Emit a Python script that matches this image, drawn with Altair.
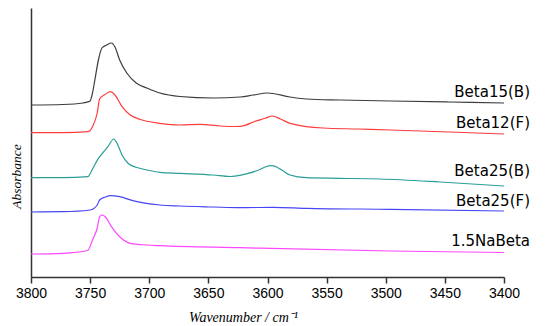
import altair as alt
import pandas as pd

# ---- data (wavenumber in cm-1, absorbance in arbitrary offset units)
wn_b15 = [3800, 3773, 3756, 3750, 3748, 3746, 3743, 3740, 3736, 3732, 3729, 3725, 3719, 3711, 3702,
          3691, 3674, 3646, 3623, 3612, 3600, 3581, 3567, 3539, 3496, 3446, 3400]
ab_b15 = [1.72, 1.725, 1.74, 1.76, 1.84, 1.97, 2.17, 2.29, 2.32, 2.34, 2.30, 2.17, 2.04, 1.94, 1.89,
          1.84, 1.805, 1.79, 1.80, 1.82, 1.84, 1.80, 1.78, 1.77, 1.76, 1.75, 1.74]

wn_b12 = [3800, 3773, 3752, 3748, 3744, 3742, 3738, 3733, 3729, 3723, 3716, 3708, 3691, 3674, 3657,
          3640, 3627, 3619, 3611, 3602, 3596, 3589, 3581, 3553, 3524, 3496, 3446, 3400]
ab_b12 = [1.443, 1.443, 1.453, 1.503, 1.64, 1.78, 1.82, 1.853, 1.82, 1.703, 1.62, 1.577, 1.537, 1.52, 1.527,
          1.51, 1.505, 1.517, 1.555, 1.587, 1.61, 1.58, 1.537, 1.49, 1.48, 1.47, 1.45, 1.43]

wn_b25b = [3800, 3773, 3752, 3748, 3743, 3739, 3735, 3730, 3728, 3723, 3718, 3711, 3702, 3691, 3674,
           3646, 3632, 3618, 3606, 3602, 3596, 3588, 3581, 3567, 3539, 3505, 3454, 3400]
ab_b25b = [0.993, 0.993, 1.003, 1.08, 1.187, 1.245, 1.303, 1.38, 1.353, 1.22, 1.137, 1.097, 1.07, 1.047, 1.037,
           1.02, 1.005, 1.032, 1.077, 1.10, 1.113, 1.07, 1.02, 0.993, 0.987, 0.98, 0.95, 0.91]

wn_b25f = [3800, 3773, 3750, 3744, 3742, 3737, 3733, 3725, 3714, 3691, 3674, 3646, 3623, 3595, 3567,
           3496, 3400]
ab_b25f = [0.65, 0.653, 0.67, 0.72, 0.77, 0.80, 0.813, 0.803, 0.763, 0.72, 0.71, 0.70, 0.693, 0.697, 0.687,
           0.677, 0.66]

wn_na = [3800, 3773, 3752, 3748, 3744, 3742, 3740, 3737, 3732, 3725, 3716, 3702, 3691, 3623, 3496, 3400]
ab_na = [0.23, 0.237, 0.265, 0.37, 0.49, 0.60, 0.62, 0.60, 0.503, 0.403, 0.337, 0.32, 0.313, 0.293, 0.26, 0.245]

series_names = ["Beta15(B)", "Beta12(F)", "Beta25(B)", "Beta25(F)", "1.5NaBeta"]
series_colors = ["#3c3c3c", "#ff3c3c", "#2a9e98", "#4646f5", "#ff46ff"]
label_y = [1.85, 1.545, 1.063, 0.763, 0.363]
label_x = [3400, 3400, 3400, 3400, 3400]

all_ticks = [3800, 3775, 3750, 3725, 3700, 3675, 3650, 3625, 3600, 3575, 3550, 3525,
             3500, 3475, 3450, 3425, 3400]

# ---- build tables
rows = []
for name, wns, abs_ in zip(series_names,
                           [wn_b15, wn_b12, wn_b25b, wn_b25f, wn_na],
                           [ab_b15, ab_b12, ab_b25b, ab_b25f, ab_na]):
    for i, (w, a) in enumerate(zip(wns, abs_)):
        rows.append({"series": name, "wn": w, "abs": a, "order": i})
df = pd.DataFrame(rows)
labels_df = pd.DataFrame({"series": series_names, "wn": label_x, "abs": label_y})

x_scale = alt.Scale(domain=[3800, 3400], nice=False, zero=False)
y_scale = alt.Scale(domain=[0, 2.69], nice=False, zero=False)
color_scale = alt.Scale(domain=series_names, range=series_colors)

x_axis = alt.Axis(
    values=all_ticks,
    labelExpr="datum.value % 50 === 0 ? datum.label : ''",
    format="d",
    grid=False,
    domainColor="#333333",
    domainWidth=1.5,
    tickColor="#333333",
    tickWidth=1.5,
    tickSize={"condition": {"test": "datum.value % 50 === 0", "value": 6}, "value": 3.5},
    labelFont="Liberation Sans",
    labelFontSize=14,
    labelColor="#000000",
    labelPadding=3,
    labelOverlap=False,
    labelFlush=False,
    title="Wavenumber / cm\u207b\u00b9",
    titleFont="Liberation Serif",
    titleFontStyle="italic",
    titleFontWeight="normal",
    titleFontSize=14,
    titleColor="#000000",
    titleX=212,
    titleY=40,
    titleAlign="center",
    titleBaseline="middle",
)

y_axis = alt.Axis(
    labels=False,
    ticks=False,
    grid=False,
    domainColor="#333333",
    domainWidth=1.5,
    title="Absorbance",
    titleFont="Liberation Serif",
    titleFontStyle="italic",
    titleFontWeight="normal",
    titleFontSize=13.5,
    titleColor="#000000",
    titleAngle=270,
    titleX=-11,
    titleY=168,
    titleAlign="center",
    titleBaseline="alphabetic",
)

lines = alt.Chart(df).mark_line(strokeWidth=1.2, interpolate="monotone").encode(
    x=alt.X("wn:Q", scale=x_scale, axis=x_axis),
    y=alt.Y("abs:Q", scale=y_scale, axis=y_axis),
    color=alt.Color("series:N", scale=color_scale, legend=None),
    detail="series:N",
    order="order:Q",
)

texts = alt.Chart(labels_df).mark_text(
    align="right", baseline="middle", dx=26, font="DejaVu Sans", fontSize=15, color="#000000"
).encode(
    x=alt.X("wn:Q", scale=x_scale),
    y=alt.Y("abs:Q", scale=y_scale),
    text="series:N",
)

chart = alt.layer(lines, texts).properties(
    width=473,
    height=269,
    autosize=alt.AutoSizeParams(type="none"),
    padding={"left": 23, "top": 0, "right": 38, "bottom": 49},
).configure_view(stroke=None)

chart.save("out.html", embed_options={"renderer": "svg", "actions": False})
